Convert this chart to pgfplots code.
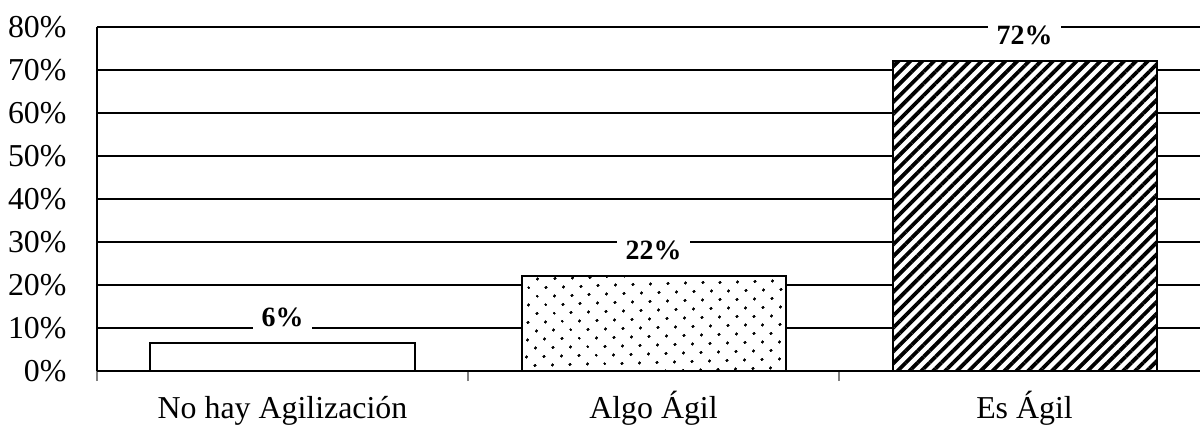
\documentclass[border=0pt]{standalone}
\usepackage{pgfplots}
\pgfplotsset{compat=1.18}
\usepackage{fontspec}
\setmainfont{Liberation Serif}
\usetikzlibrary{patterns.meta}

\pgfplotstableread{
x  y    lbl
0  6.5  6\%
1  22   22\%
2  72   72\%
}\agil

\begin{document}
\begin{tikzpicture}[x=1bp,y=1bp]
\path[use as bounding box] (-48.5,-27) rectangle (551.5,185.5);
\begin{axis}[
  at={(0,0)}, anchor=south west,
  scale only axis,
  width=556.5bp, height=172bp,
  xmin=-0.5, xmax=2.5,
  ymin=0, ymax=80,
  axis x line*=bottom, axis y line*=left,
  axis line style={-, line width=1bp},
  xtick={0,1,2},
  xticklabels={No hay Agilización, Algo Ágil, Es Ágil},
  minor xtick={-0.5,0.5,1.5},
  major x tick style={draw=none},
  minor x tick style={line width=0.8bp},
  minor tick length=5bp,
  tick align=outside,
  ytick={0,10,...,80},
  major y tick style={draw=none},
  yticklabel={\pgfmathprintnumber{\tick}\%},
  /pgf/number format/assume math mode=true,
  ymajorgrids,
  grid style={black, line width=0.6bp},
  ticklabel style={font=\fontsize{16}{19}\selectfont},
  yticklabel style={xshift=-7.5bp},
  xticklabel style={text height=11bp, text depth=4bp, yshift=-5bp},
  clip=false,
]
\draw[line width=1bp] (axis cs:-0.5,80) -- (axis cs:2.5,80);
\addplot[ybar, bar width=132bp, draw=black, line width=1bp, fill=white,
  nodes near coords,
  point meta=explicit symbolic,
  every node near coord/.style={anchor=base, yshift=8.5bp, fill=white,
    inner xsep=4.5bp, inner ysep=3bp, font=\fontsize{14}{16}\selectfont\bfseries}]
  table[x=x, y=y, meta=lbl] {\agil};
% patterns drawn over the white bars
\addplot[ybar, bar width=132bp, draw=black, line width=1bp,
  pattern={Dots[distance=6bp, angle=45, radius=0.75bp]}]
  coordinates {(1,22)};
\addplot[ybar, bar width=132bp, draw=black, line width=1bp,
  pattern={Lines[distance=4.2bp, angle=45, line width=1.9bp]}]
  coordinates {(2,72)};
\end{axis}
\end{tikzpicture}
\end{document}
